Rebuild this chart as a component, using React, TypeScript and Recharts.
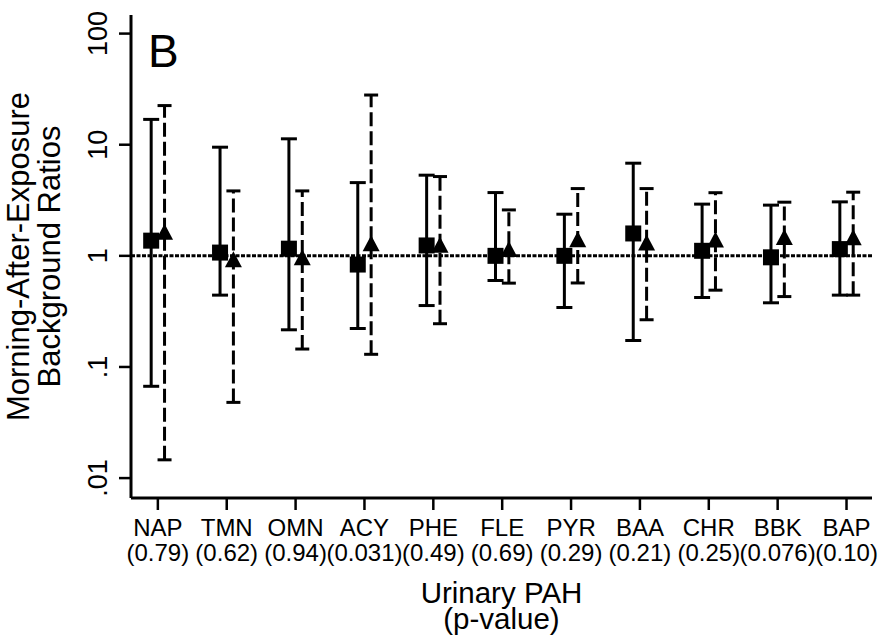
import { ComposedChart, Scatter, ErrorBar, XAxis, YAxis, ReferenceLine, Label } from 'recharts'

const pahNames = ['NAP', 'TMN', 'OMN', 'ACY', 'PHE', 'FLE', 'PYR', 'BAA', 'CHR', 'BBK', 'BAP']
const pValues = ['0.79', '0.62', '0.94', '0.031', '0.49', '0.69', '0.29', '0.21', '0.25', '0.076', '0.10']

// squares, solid error bars
const squareMid = [1.37, 1.07, 1.16, 0.835, 1.24, 1.0, 1.0, 1.59, 1.11, 0.97, 1.15]
const squareLo = [0.067, 0.443, 0.216, 0.222, 0.357, 0.6, 0.343, 0.173, 0.422, 0.378, 0.443]
const squareHi = [16.9, 9.5, 11.3, 4.56, 5.32, 3.71, 2.37, 6.82, 2.92, 2.86, 3.06]

// triangles, dashed error bars
const triMid = [1.65, 0.93, 0.97, 1.3, 1.26, 1.15, 1.41, 1.32, 1.4, 1.48, 1.47]
const triLo = [0.0146, 0.048, 0.145, 0.13, 0.245, 0.568, 0.57, 0.266, 0.491, 0.43, 0.443]
const triHi = [22.5, 3.84, 3.84, 28, 5.17, 2.59, 4.03, 4.03, 3.7, 3.04, 3.74]

const yTicks = [0.01, 0.1, 1, 10, 100]
const yTickLabels = ['.01', '.1', '1', '10', '100']

const FONT = '"Liberation Sans", Arial, Helvetica, sans-serif'
const OFFSET = 0.097

const squareData = pahNames.map((_, i) => ({
  x: i + 1 - OFFSET,
  y: squareMid[i],
  err: [squareMid[i] - squareLo[i], squareHi[i] - squareMid[i]],
}))
const triData = pahNames.map((_, i) => ({
  x: i + 1 + OFFSET,
  y: triMid[i],
  err: [triMid[i] - triLo[i], triHi[i] - triMid[i]],
}))

function SquareMark({ cx, cy }: any) {
  return <rect x={cx - 8} y={cy - 8} width={16} height={16} fill="#000" />
}

function TriMark({ cx, cy }: any) {
  return <polygon points={`${cx},${cy - 8} ${cx - 8.5},${cy + 8} ${cx + 8.5},${cy + 8}`} fill="#000" />
}

function PahTick({ x, y, payload }: any) {
  const i = Math.round(payload.value) - 1
  return (
    <text x={x} y={y} textAnchor="middle" fontFamily={FONT} fontSize={24} fill="#000">
      <tspan x={x} dy={24}>{pahNames[i]}</tspan>
      <tspan x={x} dy={25}>({pValues[i]})</tspan>
    </text>
  )
}

function RatioTick({ x, y, payload }: any) {
  const i = yTicks.indexOf(payload.value)
  const bx = x - 10
  return (
    <text
      x={bx}
      y={y}
      transform={`rotate(-90 ${bx} ${y})`}
      textAnchor="middle"
      fontFamily={FONT}
      fontSize={27}
      fill="#000"
    >
      {yTickLabels[i]}
    </text>
  )
}

function YTitle({ viewBox }: any) {
  const cy = viewBox.y + viewBox.height / 2
  return (
    <g fontFamily={FONT} fontSize={31} fill="#000">
      <text x={29} y={cy} transform={`rotate(-90 29 ${cy})`} textAnchor="middle">
        Morning-After-Exposure
      </text>
      <text x={60} y={cy} transform={`rotate(-90 60 ${cy})`} textAnchor="middle">
        Background Ratios
      </text>
    </g>
  )
}

function XTitle({ viewBox }: any) {
  const cx = viewBox.x + viewBox.width / 2
  return (
    <g fontFamily={FONT} fontSize={29.5} fill="#000">
      <text x={cx} y={603} textAnchor="middle">Urinary PAH</text>
      <text x={cx} y={629} textAnchor="middle">(p-value)</text>
    </g>
  )
}

export default function App() {
  return (
    <div style={{ position: 'absolute', left: 0, top: 0, width: 882, height: 639, background: '#fff' }}>
      <ComposedChart width={882} height={639} margin={{ top: 15, right: 10, bottom: 0, left: 0 }}>
        <XAxis
          dataKey="x"
          type="number"
          domain={[0.61, 11.37]}
          ticks={[1, 2, 3, 4, 5, 6, 7, 8, 9, 10, 11]}
          allowDataOverflow
          height={141}
          tickSize={12}
          axisLine={{ stroke: '#000', strokeWidth: 3 }}
          tickLine={{ stroke: '#000', strokeWidth: 2.5 }}
          tick={<PahTick />}
          interval={0}
        >
          <Label content={<XTitle />} />
        </XAxis>
        <XAxis
          xAxisId="top"
          orientation="top"
          type="number"
          domain={[0, 1]}
          height={0}
          tick={false}
          tickLine={false}
          axisLine={{ stroke: '#000', strokeWidth: 2.5 }}
        />
        <YAxis
          dataKey="y"
          scale="log"
          type="number"
          domain={[0.00662, 147]}
          ticks={yTicks}
          allowDataOverflow
          width={131}
          tickSize={12}
          axisLine={{ stroke: '#000', strokeWidth: 3 }}
          tickLine={{ stroke: '#000', strokeWidth: 2.5 }}
          tick={<RatioTick />}
          interval={0}
        >
          <Label content={<YTitle />} />
        </YAxis>
        <YAxis
          yAxisId="right"
          orientation="right"
          type="number"
          domain={[0, 1]}
          width={0}
          tick={false}
          tickLine={false}
          axisLine={{ stroke: '#000', strokeWidth: 2.5 }}
        />
        <ReferenceLine y={1} stroke="#000" strokeWidth={3} strokeDasharray="4 1.5" />
        <Scatter data={squareData} shape={<SquareMark />} isAnimationActive={false}>
          <ErrorBar dataKey="err" direction="y" width={8} stroke="#000" strokeWidth={3} />
        </Scatter>
        <Scatter data={triData} shape={<TriMark />} isAnimationActive={false}>
          {/* cap is 14px long, so it falls inside one 14px dash */}
          <ErrorBar
            dataKey="err"
            direction="y"
            width={7}
            stroke="#000"
            strokeWidth={3}
            strokeDasharray="14 5"
          />
        </Scatter>
      </ComposedChart>
      <svg width={882} height={639} style={{ position: 'absolute', left: 0, top: 0, pointerEvents: 'none' }}>
        <text x={148} y={67} fontFamily={FONT} fontSize={46} fill="#000">B</text>
      </svg>
    </div>
  )
}
